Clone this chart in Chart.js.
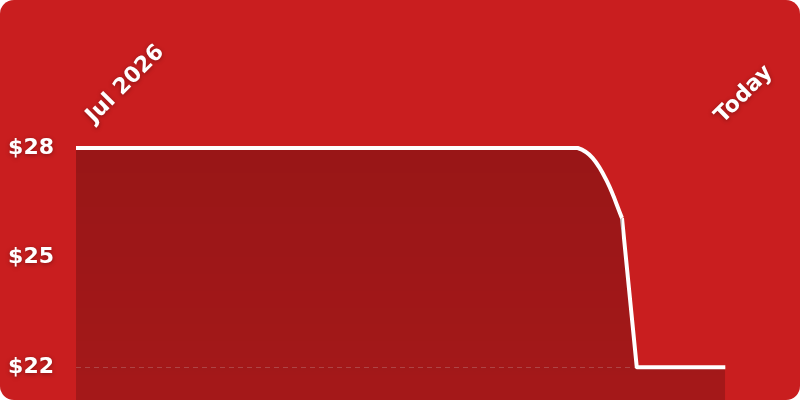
<!DOCTYPE html>
<html>
<head>
<meta charset="utf-8">
<script src="https://cdn.jsdelivr.net/npm/chart.js@4.4.1/dist/chart.umd.min.js"></script>
<style>
  html, body { margin: 0; padding: 0; background: #ffffff; }
  .card {
    width: 800px;
    height: 400px;
    border-radius: 14px;
    overflow: hidden;
    background: #c91e1f;
    position: relative;
  }
  canvas { display: block; }
</style>
</head>
<body>
<div class="card">
  <canvas id="priceChart" width="800" height="400"></canvas>
</div>
<script>
// days since the first price record
const days = [
  0, 1, 2, 3, 4, 5, 6, 7, 8, 9,
  10, 11, 12, 13, 14, 15, 16, 17, 18, 19,
  20, 21, 22, 23, 24, 25, 26, 27, 28, 29,
  30, 31, 32, 33, 34, 35, 36, 37, 38, 39,
  40, 41, 42, 43, 44
];
const prices = [
  28, 28, 28, 28, 28, 28, 28, 28, 28, 28,
  28, 28, 28, 28, 28, 28, 28, 28, 28, 28,
  28, 28, 28, 28, 28, 28, 28, 28, 28, 28,
  28, 28, 28, 28, 28, 27.73, 27.07, 26.08, 22, 22,
  22, 22, 22, 22, 22
];
const dropIndex = 37;                 // last day before the price cut
const xTickDays = [1.4, 44];          // Jul 1 and today
const xTickLabels = ['Jul 2026', 'Today'];
const yTicks = [22, 25, 28];
const yMin = 21.1;
const yMax = 28;

const fontFamily = "'DejaVu Sans', sans-serif";

const points = days.map((d, i) => ({ x: d, y: prices[i] }));

// soft shadow under the axis labels only
const labelShadow = {
  id: 'labelShadow',
  beforeDraw(chart) {
    const ctx = chart.ctx;
    ctx.shadowColor = 'rgba(0, 0, 0, 0.35)';
    ctx.shadowBlur = 4;
    ctx.shadowOffsetX = 0;
    ctx.shadowOffsetY = 1;
  },
  beforeDatasetsDraw(chart) {
    const ctx = chart.ctx;
    ctx.shadowColor = 'transparent';
    ctx.shadowBlur = 0;
    ctx.shadowOffsetY = 0;
  }
};

function fillGradient(context) {
  const area = context.chart.chartArea;
  if (!area) return 'rgba(0, 0, 0, 0.2)';
  const g = context.chart.ctx.createLinearGradient(0, area.top, 0, area.bottom);
  g.addColorStop(0, 'rgba(0, 0, 0, 0.24)');
  g.addColorStop(1, 'rgba(0, 0, 0, 0.18)');
  return g;
}

function noPadding(scale) {
  scale.paddingTop = 0;
  scale.paddingBottom = 0;
  scale.paddingLeft = 0;
  scale.paddingRight = 0;
}

const lineStyle = {
  borderColor: '#ffffff',
  borderWidth: 4,
  backgroundColor: fillGradient,
  fill: 'start',
  pointRadius: 0,
  clip: 6
};

new Chart(document.getElementById('priceChart'), {
  type: 'line',
  data: {
    datasets: [
      // regular price, smoothed
      { ...lineStyle, data: points.slice(0, dropIndex + 1), tension: 0.4 },
      // the cut itself and the sale price
      { ...lineStyle, data: points.slice(dropIndex), tension: 0, borderJoinStyle: 'round' }
    ]
  },
  options: {
    responsive: false,
    animation: false,
    layout: {
      // 74.7 puts the cut day on a whole pixel so the two fills meet cleanly
      padding: { left: 0, right: 74.7, top: 0, bottom: 0 }
    },
    plugins: {
      legend: { display: false },
      tooltip: { enabled: false }
    },
    scales: {
      x: {
        type: 'linear',
        position: 'top',
        min: 0,
        max: 44,
        border: { display: false },
        grid: { display: false, drawTicks: false },
        afterBuildTicks(scale) {
          scale.ticks = xTickDays.map(v => ({ value: v }));
        },
        ticks: {
          autoSkip: false,
          maxRotation: 45,
          minRotation: 45,
          padding: 19,
          labelOffset: 12,
          color: '#ffffff',
          font: { family: fontFamily, size: 22, weight: 'bold' },
          callback: (v, i) => xTickLabels[i]
        },
        afterFit(scale) {
          scale.height = 148;
          noPadding(scale);
        }
      },
      y: {
        min: yMin,
        max: yMax,
        border: { display: false, dash: [5, 4] },
        grid: {
          drawTicks: false,
          lineWidth: 1,
          color: (ctx) => ctx.tick && ctx.tick.value === 22 ? 'rgba(255, 255, 255, 0.24)' : 'transparent'
        },
        afterBuildTicks(scale) {
          scale.ticks = yTicks.map(v => ({ value: v }));
        },
        ticks: {
          padding: 22,
          color: '#ffffff',
          font: { family: fontFamily, size: 22, weight: 'bold' },
          callback: (v) => '$' + v
        },
        afterFit(scale) {
          scale.width = 76;
          noPadding(scale);
        }
      }
    }
  },
  plugins: [labelShadow]
});
</script>
</body>
</html>
